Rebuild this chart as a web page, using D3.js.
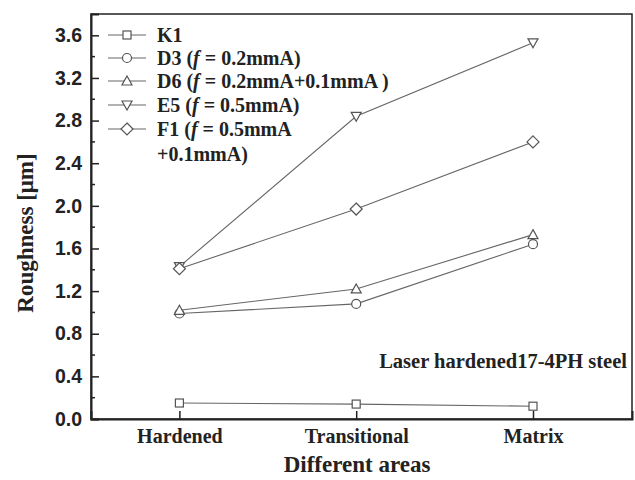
<!DOCTYPE html>
<html>
<head>
<meta charset="UTF-8" />
<script src="https://d3js.org/d3.v7.min.js"></script>
<style>
  body { margin: 0; background: #fff; }
  svg { display: block; }
</style>
</head>
<body>
<div id="chart"></div>
<script>
  const width = 635;
  const height = 480;
  const margin = { top: 14, right: 3, bottom: 61, left: 91 };

  const areas = ["Hardened", "Transitional", "Matrix"];
  const yTicks = [0.0, 0.4, 0.8, 1.2, 1.6, 2.0, 2.4, 2.8, 3.2, 3.6];

  const k1 = [0.15, 0.14, 0.12];
  const d3v = [0.99, 1.08, 1.64];
  const d6 = [1.02, 1.22, 1.73];
  const e5 = [1.43, 2.84, 3.53];
  const f1 = [1.41, 1.97, 2.60];

  const series = [
    { name: "K1", sym: "square", values: k1, label: [["K1"]] },
    { name: "D3", sym: "circle", values: d3v, label: [["D3 (", "f", " = 0.2mmA)"]] },
    { name: "D6", sym: "up", values: d6, label: [["D6 (", "f", " = 0.2mmA+0.1mmA )"]] },
    { name: "E5", sym: "down", values: e5, label: [["E5 (", "f", " = 0.5mmA)"]] },
    { name: "F1", sym: "diamond", values: f1, label: [["F1 (", "f", " = 0.5mmA"], ["+0.1mmA)"]] }
  ];

  const serif = "Liberation Serif, Times New Roman, serif";

  const svg = d3.select("#chart").append("svg")
    .attr("width", width)
    .attr("height", height);

  const x = d3.scaleLinear()
    .domain([-0.5, 2.56])
    .range([margin.left, width - margin.right]);

  const y = d3.scaleLinear()
    .domain([0, 3.8])
    .range([height - margin.bottom, margin.top]);

  // frame
  svg.append("rect")
    .attr("x", margin.left)
    .attr("y", margin.top)
    .attr("width", width - margin.right - margin.left)
    .attr("height", height - margin.bottom - margin.top)
    .attr("fill", "none")
    .attr("stroke", "#222")
    .attr("stroke-width", 1.5);

  // y axis, ticks inward
  const yAxis = d3.axisLeft(y)
    .tickValues(yTicks)
    .tickSize(-8)
    .tickPadding(9)
    .tickFormat(d3.format(".1f"));
  const yG = svg.append("g")
    .attr("transform", `translate(${margin.left},0)`)
    .call(yAxis);
  yG.select(".domain").attr("stroke", "#222").attr("stroke-width", 2);
  yG.selectAll(".tick line").attr("stroke", "#222").attr("stroke-width", 1.5);
  yG.selectAll(".tick text")
    .attr("font-family", "Liberation Sans, Arial, sans-serif")
    .attr("font-weight", "bold")
    .attr("font-size", 19.5)
    .attr("fill", "#222");

  // minor y ticks
  svg.append("g").selectAll("line")
    .data(d3.range(0.2, 3.8, 0.4))
    .join("line")
    .attr("x1", margin.left)
    .attr("x2", margin.left + 4)
    .attr("y1", d => y(d))
    .attr("y2", d => y(d))
    .attr("stroke", "#222")
    .attr("stroke-width", 1.5);

  // x axis, ticks inward
  const xAxis = d3.axisBottom(x)
    .tickValues([0, 1, 2])
    .tickSize(-8)
    .tickPadding(10)
    .tickFormat(i => areas[i]);
  const xG = svg.append("g")
    .attr("transform", `translate(0,${height - margin.bottom})`)
    .call(xAxis);
  xG.select(".domain").attr("stroke", "#222").attr("stroke-width", 2);
  xG.selectAll(".tick line").attr("stroke", "#222").attr("stroke-width", 1.5);
  xG.selectAll(".tick text")
    .attr("font-family", serif)
    .attr("font-weight", "bold")
    .attr("font-size", 20)
    .attr("fill", "#222");

  // axis titles
  svg.append("text")
    .attr("x", 357)
    .attr("y", 472)
    .attr("text-anchor", "middle")
    .attr("font-family", serif)
    .attr("font-weight", "bold")
    .attr("font-size", 23)
    .attr("fill", "#222")
    .text("Different areas");

  svg.append("text")
    .attr("transform", "translate(33,233) rotate(-90)")
    .attr("text-anchor", "middle")
    .attr("font-family", serif)
    .attr("font-weight", "bold")
    .attr("font-size", 23)
    .attr("fill", "#222")
    .text("Roughness [μm]");

  // marker drawing
  function marker(g, sym, cx, cy) {
    const s = 4;
    let el;
    if (sym === "square") {
      el = g.append("rect").attr("x", cx - s).attr("y", cy - s).attr("width", 2 * s).attr("height", 2 * s);
    } else if (sym === "circle") {
      el = g.append("circle").attr("cx", cx).attr("cy", cy).attr("r", s + 0.5);
    } else if (sym === "up") {
      el = g.append("path").attr("d", `M${cx},${cy - s - 1} L${cx + s + 1},${cy + s} L${cx - s - 1},${cy + s} Z`);
    } else if (sym === "down") {
      el = g.append("path").attr("d", `M${cx},${cy + s + 1} L${cx + s + 1},${cy - s} L${cx - s - 1},${cy - s} Z`);
    } else {
      el = g.append("path").attr("d", `M${cx},${cy - s - 2} L${cx + s + 2},${cy} L${cx},${cy + s + 2} L${cx - s - 2},${cy} Z`);
    }
    el.attr("fill", "#fff").attr("stroke", "#555").attr("stroke-width", 1.2);
  }

  const line = d3.line()
    .x((d, i) => x(i))
    .y(d => y(d));

  const plot = svg.append("g");
  series.forEach(s => {
    plot.append("path")
      .datum(s.values)
      .attr("d", line)
      .attr("fill", "none")
      .attr("stroke", "#666")
      .attr("stroke-width", 1.1);
  });
  series.forEach(s => {
    s.values.forEach((v, i) => marker(plot, s.sym, x(i), y(v)));
  });

  // legend
  const legend = svg.append("g");
  const legY = [35, 58, 81, 105, 129];
  series.forEach((s, k) => {
    const ly = legY[k];
    legend.append("line")
      .attr("x1", 108).attr("x2", 146)
      .attr("y1", ly).attr("y2", ly)
      .attr("stroke", "#666").attr("stroke-width", 1.1);
    marker(legend, s.sym, 127, ly);
    s.label.forEach((parts, r) => {
      const t = legend.append("text")
        .attr("x", 157)
        .attr("y", ly + 7 + r * 25)
        .attr("font-family", serif)
        .attr("font-weight", "bold")
        .attr("font-size", 20)
        .attr("fill", "#222");
      parts.forEach((p, j) => {
        t.append("tspan")
          .attr("font-style", p === "f" && j === 1 ? "italic" : "normal")
          .text(p);
      });
    });
  });

  // annotation
  svg.append("text")
    .attr("x", 627)
    .attr("y", 368)
    .attr("text-anchor", "end")
    .attr("font-family", serif)
    .attr("font-weight", "bold")
    .attr("font-size", 20.5)
    .attr("fill", "#222")
    .text("Laser hardened17-4PH steel");
</script>
</body>
</html>
